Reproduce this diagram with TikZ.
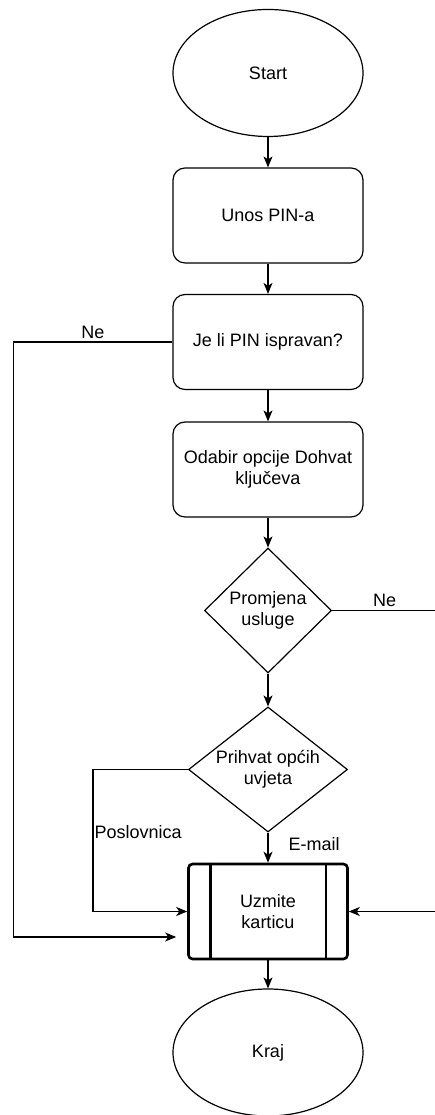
\documentclass[tikz,border=0pt]{standalone}
\usepackage{fontspec}
\setmainfont{Liberation Sans}
\usetikzlibrary{shapes.geometric,arrows.meta}

\tikzstyle{terminal}=[draw,line width=1.2pt,ellipse,minimum width=190pt,minimum height=127pt,inner sep=0pt]
\tikzstyle{process}=[draw,line width=1.2pt,rectangle,rounded corners=12pt,minimum width=190pt,minimum height=95pt,align=center]
\tikzstyle{decision}=[draw,line width=1.2pt,diamond,minimum width=127pt,minimum height=125pt,inner sep=0pt,align=center]
\tikzstyle{widedecision}=[decision,minimum width=159pt,aspect=1.27,inner sep=-8pt]
\tikzstyle{subproc}=[draw,line width=2.6pt,rectangle,rounded corners=4pt,minimum width=159pt,minimum height=95pt,align=center]
\tikzstyle{flow} = [draw,line width=1.2pt,-{Stealth[length=11pt,width=9pt,inset=3pt]}]
\tikzstyle{answer} = [inner sep=3pt]
\newcommand{\fcfont}{\fontsize{18}{21}\selectfont}

\begin{document}
\begin{tikzpicture}[x=1pt, y=1pt, font=\fcfont]
    \useasboundingbox (0,0) rectangle (434,1115);
    % First we draw the blocks
    \foreach \pos/\name/\kind/\txt in {{(268,1042)/start/terminal/Start},
        {(268,899.5)/unos/process/Unos PIN-a},
        {(268,773)/jeli/process/Je li PIN ispravan?},
        {(268,645.5)/odabir/process/Odabir opcije Dohvat\\ključeva},
        {(268,504.5)/prom/decision/Promjena\\usluge},
        {(268,345.5)/prihvat/widedecision/Prihvat općih\\uvjeta},
        {(268,203.5)/uzmite/subproc/Uzmite\\karticu},
        {(268,62.5)/kraj/terminal/Kraj}}
        \node[\kind] (\name) at \pos {\txt};
    % side bars of the sub-process
    \draw[line width=2.6pt] ([xshift=23pt]uzmite.north west) -- ([xshift=23pt]uzmite.south west);
    \draw[line width=2.6pt] ([xshift=-23pt]uzmite.north east) -- ([xshift=-23pt]uzmite.south east);
    % Connect blocks straight down
    \foreach \source/\dest in {start/unos, unos/jeli, jeli/odabir, odabir/prom, prom/prihvat, uzmite/kraj}
        \path[flow] (\source.south) -- (\dest.north);
    \path[flow] (prihvat.south) -- node[answer, right, xshift=17pt, yshift=4pt] {E-mail} (uzmite.north);
    % Branches
    \path[flow] (jeli.west) -- node[answer, above] {Ne} ++(-159,0)
        |- ([shift={(-11pt,-25.5pt)}]uzmite.west);
    \path[flow] (prom.east) -- node[answer, above] {Ne} ++(105,0) |- (uzmite.east);
    \path[flow] (prihvat.west) -- ++(-95,0)
        |- node[answer, pos=0.22, right, inner sep=1pt] {Poslovnica} (uzmite.west);
\end{tikzpicture}
\end{document}
